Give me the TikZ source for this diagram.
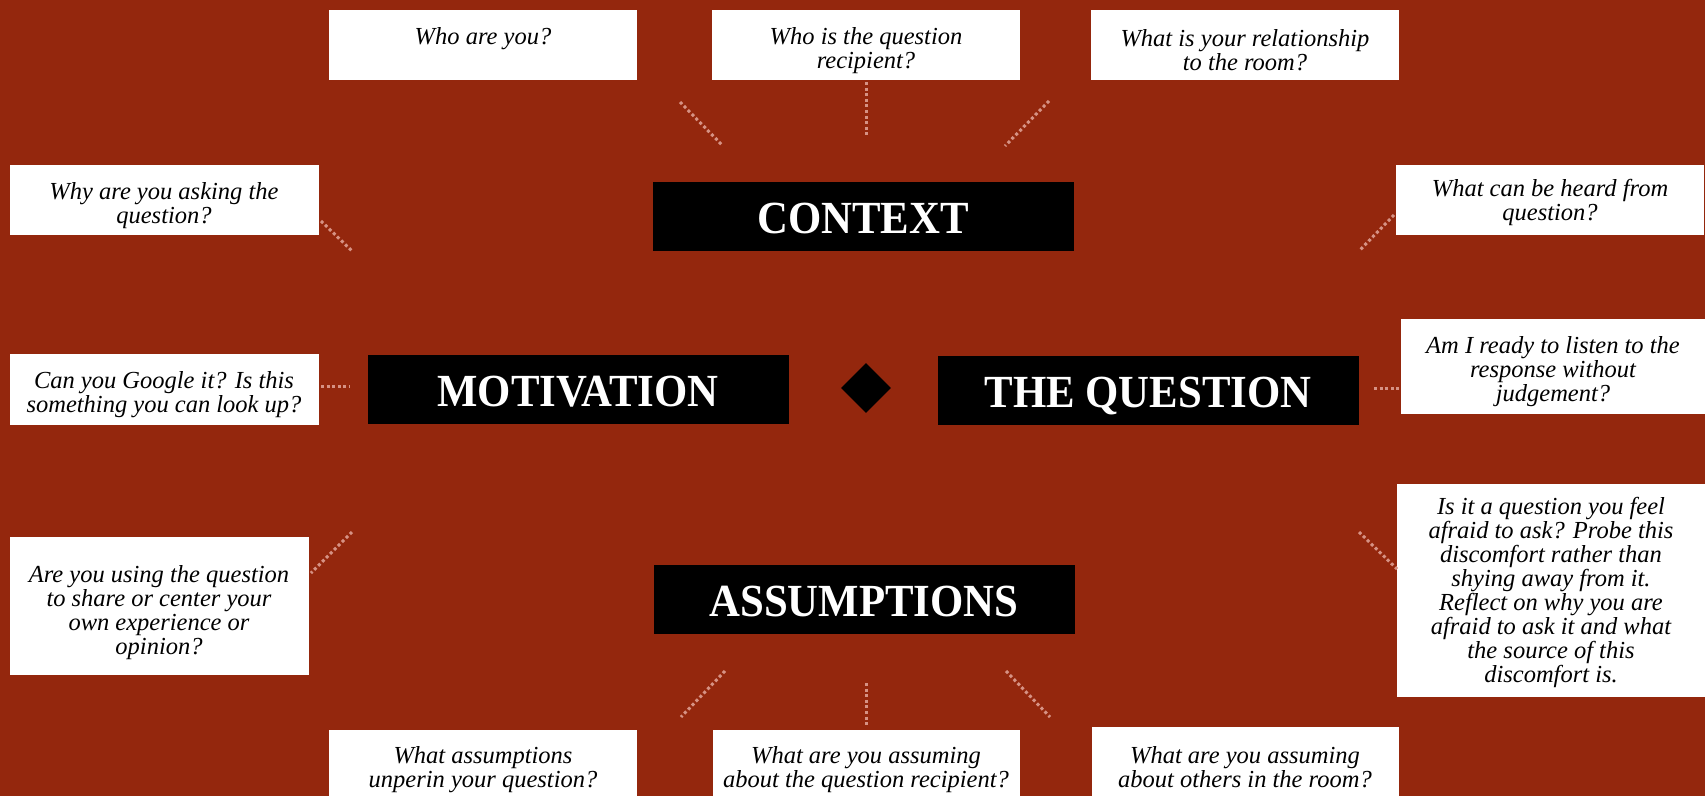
\documentclass[tikz,border=0pt]{standalone}
\usepackage{fontspec}
\setmainfont{Liberation Serif}
\newfontfamily\headfont{Liberation Serif}[FakeStretch=0.93]
\usetikzlibrary{shapes.geometric}
\definecolor{rust}{RGB}{148,39,13}
\definecolor{dotpink}{RGB}{214,146,132}
\tikzset{
  qbox/.style={fill=white, inner sep=0pt},
  qtext/.style={inner sep=0pt, align=center, text=black,
    font=\itshape\fontsize{24.5}{24}\selectfont},
  hbox/.style={fill=black, text=white, inner sep=0pt, minimum width=421pt,
    minimum height=69pt, text height=34.5pt, text depth=0pt,
    font=\headfont\bfseries\fontsize{46}{48}\selectfont},
  spoke/.style={draw=dotpink, line width=3pt, dash pattern=on 3pt off 2.6pt},
}
\begin{document}
\begin{tikzpicture}[x=1pt, y=-1pt]
  \useasboundingbox (0,0) rectangle (1705,796);
  \fill[rust] (0,0) rectangle (1705,796);
  \clip (0,0) rectangle (1705,796);

  % central headings
  \node[hbox] (context) at (863,216) {CONTEXT};
  \node[hbox] (motiv) at (578,389) {MOTIVATION};
  \node[hbox] (thequestion) at (1148,390) {THE QUESTION};
  \node[hbox] (assume) at (864,599) {ASSUMPTIONS};
  \node[diamond, fill=black, minimum size=50pt, inner sep=0pt] (hub) at (866,388) {};

  % question cards, top row
  \node[qbox, minimum width=308pt, minimum height=70pt] (who) at (483,45) {};
  \node[qtext] (whoT) at ([yshift=-6.5pt]who.center) {Who are you?\\\strut};
  \node[qbox, minimum width=308pt, minimum height=70pt] (recip) at (866,45) {};
  \node[qtext] (recipT) at ([yshift=-6pt]recip.center) {Who is the question\\recipient?};
  \node[qbox, minimum width=308pt, minimum height=70pt] (room) at (1245,45) {};
  \node[qtext] (roomT) at ([yshift=-5pt]room.center) {What is your relationship\\to the room?};

  % left column
  \node[qbox, minimum width=309pt, minimum height=70pt] (why) at (164,200) {};
  \node[qtext] (whyT) at ([yshift=-5.5pt]why.center) {Why are you asking the\\question?};
  \node[qbox, minimum width=309pt, minimum height=71pt] (google) at (164,389) {};
  \node[qtext] (googleT) at ([yshift=-6pt]google.center) {Can you Google it? Is this\\something you can look up?};
  \node[qbox, minimum width=299pt, minimum height=138pt] (using) at (159,606) {};
  \node[qtext] (usingT) at ([yshift=-7pt]using.center) {Are you using the question\\to share or center your\\own experience or\\opinion?};

  % right column
  \node[qbox, minimum width=308pt, minimum height=70pt] (heard) at (1550,200) {};
  \node[qtext] (heardT) at ([yshift=-2pt]heard.center) {What can be heard from\\question?};
  \node[qbox, minimum width=304pt, minimum height=95pt] (ready) at (1553,366) {};
  \node[qtext] (readyT) at ([yshift=-6pt]ready.center) {Am I ready to listen to the\\response without\\judgement?};
  \node[qbox, minimum width=308pt, minimum height=213pt] (afraid) at (1551,590) {};
  \node[qtext] (afraidT) at ([yshift=-2.5pt]afraid.center) {Is it a question you feel\\afraid to ask? Probe this\\discomfort rather than\\shying away from it.\\Reflect on why you are\\afraid to ask it and what\\the source of this\\discomfort is.};

  % bottom row
  \node[qbox, minimum width=308pt, minimum height=72pt] (unperin) at (483,766) {};
  \node[qtext] (unperinT) at ([yshift=-3.5pt]unperin.center) {What assumptions\\unperin your question?};
  \node[qbox, minimum width=307pt, minimum height=72pt] (aboutrecip) at (866,766) {};
  \node[qtext] (aboutrecipT) at ([yshift=-3.5pt]aboutrecip.center) {What are you assuming\\about the question recipient?};
  \node[qbox, minimum width=307pt, minimum height=74pt] (others) at (1245,764) {};
  \node[qtext] (othersT) at ([yshift=-3.5pt]others.center) {What are you assuming\\about others in the room?};

  % dotted spokes
  \coordinate (tla) at (680,102);  \coordinate (tlb) at (723,146);
  \coordinate (tca) at (866,82);   \coordinate (tcb) at (866,135);
  \coordinate (tra) at (1049,101); \coordinate (trb) at (1005,146);
  \coordinate (lua) at (321,221);  \coordinate (lub) at (352,251);
  \coordinate (rua) at (1394,215); \coordinate (rub) at (1359,251);
  \coordinate (lma) at (321,386);  \coordinate (lmb) at (350,386);
  \coordinate (rma) at (1374,388); \coordinate (rmb) at (1399,388);
  \coordinate (lla) at (352,532);  \coordinate (llb) at (311,573);
  \coordinate (rla) at (1359,532); \coordinate (rlb) at (1397,569);
  \coordinate (bla) at (725,671);  \coordinate (blb) at (681,717);
  \coordinate (bca) at (866,683);  \coordinate (bcb) at (866,727);
  \coordinate (bra) at (1006,671); \coordinate (brb) at (1050,717);
  \foreach \a/\b in {tla/tlb, tca/tcb, tra/trb, lua/lub, rua/rub, lma/lmb,
                     rma/rmb, lla/llb, rla/rlb, bla/blb, bca/bcb, bra/brb}
    \draw[spoke] (\a) -- (\b);
\end{tikzpicture}
\end{document}
